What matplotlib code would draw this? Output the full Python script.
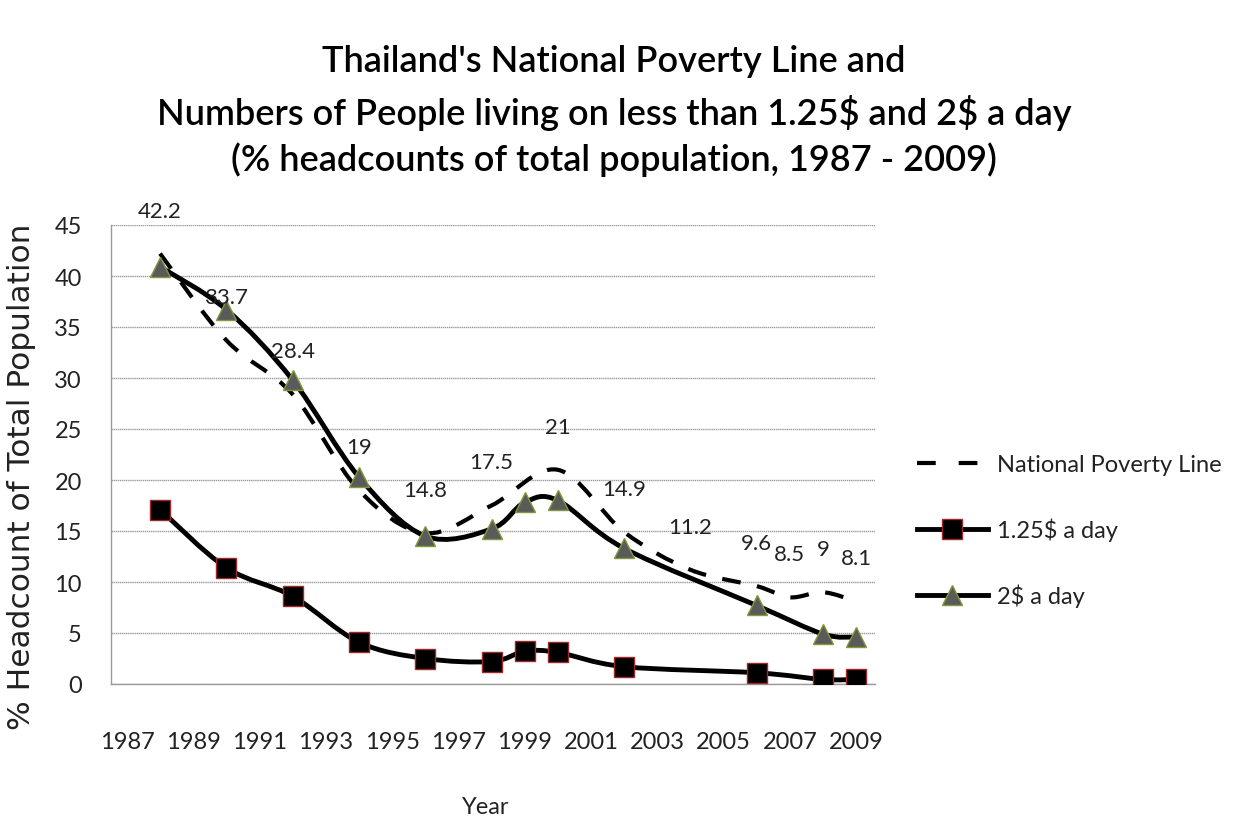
import numpy as np
import matplotlib
matplotlib.use("Agg")
import matplotlib.pyplot as plt
from matplotlib.path import Path
from matplotlib.patches import PathPatch
from matplotlib.lines import Line2D

plt.rcParams['text.parse_math'] = False

# ---------------- data ----------------
npl_years = [1988, 1990, 1992, 1994, 1996, 1998, 2000, 2002, 2004, 2006, 2007, 2008, 2009]
npl_values = [42.2, 33.7, 28.4, 19, 14.8, 17.5, 21, 14.9, 11.2, 9.6, 8.5, 9, 8.1]

wb_years = [1988, 1990, 1992, 1994, 1996, 1998, 1999, 2000, 2002, 2006, 2008, 2009]
usd125_values = [17.1, 11.4, 8.6, 4.1, 2.5, 2.2, 3.2, 3.1, 1.7, 1.1, 0.45, 0.45]
usd2_values = [40.9, 36.7, 29.8, 20.3, 14.5, 15.2, 17.8, 18.0, 13.3, 7.7, 4.9, 4.6]

year_ticks = list(range(1987, 2010, 2))
y_ticks = list(range(0, 46, 5))

title_lines = ["Thailand's National Poverty Line and",
               "Numbers of People living on less than 1.25$ and 2$ a day",
               "(% headcounts of total population, 1987 - 2009)"]
legend_labels = ["National Poverty Line", "1.25$ a day", "2$ a day"]

AX_FONT = ['Lato', 'DejaVu Sans']
TITLE_FONT = ['Lato', 'DejaVu Sans']


def smooth_path(xs, ys):
    """Excel-style smoothed line (Catmull-Rom as cubic Bezier)."""
    p = np.column_stack([xs, ys]).astype(float)
    n = len(p)
    verts = [p[0]]
    codes = [Path.MOVETO]
    for i in range(n - 1):
        p0 = p[i - 1] if i > 0 else p[i]
        p1 = p[i]
        p2 = p[i + 1]
        p3 = p[i + 2] if i + 2 < n else p[i + 1]
        c1 = p1 + (p2 - p0) / 6.0
        c2 = p2 - (p3 - p1) / 6.0
        verts += [c1, c2, p2]
        codes += [Path.CURVE4] * 3
    return Path(verts, codes)


fig = plt.figure(figsize=(12.52, 8.28), dpi=100)
ax = fig.add_axes([111 / 1252, 1 - 685 / 828, (875 - 111) / 1252, (685 - 226) / 828])

ax.set_xlim(1986.52, 2009.57)
ax.set_ylim(0, 45)

# grid
ax.set_yticks(y_ticks)
ax.grid(axis='y', color='#9a9a9a', linewidth=1.0, linestyle=(0, (1, 0.5)))
ax.set_axisbelow(True)
for s in ['top', 'right']:
    ax.spines[s].set_visible(False)
for s in ['left', 'bottom']:
    ax.spines[s].set_color('#9a9a9a')
    ax.spines[s].set_linewidth(1.0)

# lines
LW = 3.5
NPL_DASH = (0, (4.5, 4.0))
ax.add_patch(PathPatch(smooth_path(npl_years, npl_values), fill=False, edgecolor='black',
                       linewidth=3.0, linestyle=NPL_DASH, capstyle='butt', zorder=3))
ax.add_patch(PathPatch(smooth_path(wb_years, usd125_values), fill=False, edgecolor='black',
                       linewidth=LW, zorder=3))
ax.add_patch(PathPatch(smooth_path(wb_years, usd2_values), fill=False, edgecolor='black',
                       linewidth=LW, zorder=3))

sq_kw = dict(marker='s', markersize=14, markerfacecolor='black', markeredgecolor='#a02828',
             markeredgewidth=1.0)
tr_kw = dict(marker='^', markersize=15, markerfacecolor='#5a5a5a', markeredgecolor='#7f9a3a',
             markeredgewidth=1.0)
ax.plot(wb_years, usd125_values, linestyle='none', zorder=4, **sq_kw)
ax.plot(wb_years, usd2_values, linestyle='none', zorder=4, **tr_kw)

# data labels for national poverty line
for x, v in zip(npl_years, npl_values):
    ax.annotate(f"{v:g}", (x, v), xytext=(0, 31), textcoords='offset points',
                ha='center', va='center', fontsize=16, family=AX_FONT, color='#222222', zorder=5)

# ticks
ax.set_xticks(year_ticks)
ax.set_xticklabels([str(y) for y in year_ticks], family=AX_FONT, fontsize=17, color='#222222')
ax.set_yticklabels([str(y) for y in y_ticks], family=AX_FONT, fontsize=17, color='#222222')
ax.tick_params(axis='x', length=0, pad=34)
ax.tick_params(axis='y', length=0, pad=21)

fig.text(486 / 1252, 1 - 808 / 828, "Year", ha='center', va='center', family=AX_FONT,
         fontsize=17, color='#222222')
fig.text(22 / 1252, 1 - 477 / 828, "% Headcount of Total Population", rotation=90,
         ha='center', va='center', family=['DejaVu Sans'], fontsize=22.5, color='#222222')

# title
for txt, yc in zip(title_lines, [62, 113, 160]):
    fig.text(614 / 1252, 1 - yc / 828, txt, ha='center', va='center', family=TITLE_FONT,
             fontsize=26, fontweight='semibold', color='black')

# legend
handles = [Line2D([], [], color='black', linewidth=3.0, linestyle=(0, (4.5, 5.5))),
           Line2D([], [], color='black', linewidth=LW, linestyle='-', **sq_kw),
           Line2D([], [], color='black', linewidth=LW, linestyle='-', **tr_kw)]
leg = fig.legend(handles, legend_labels, loc='center left',
                 bbox_to_anchor=(917 / 1252, 1 - 532 / 828), frameon=False,
                 prop={'family': AX_FONT, 'size': 17}, handlelength=3.0,
                 handletextpad=0.4, labelspacing=1.8, labelcolor='#222222',
                 borderpad=0, borderaxespad=0)

fig.savefig("out.png", dpi=100)
